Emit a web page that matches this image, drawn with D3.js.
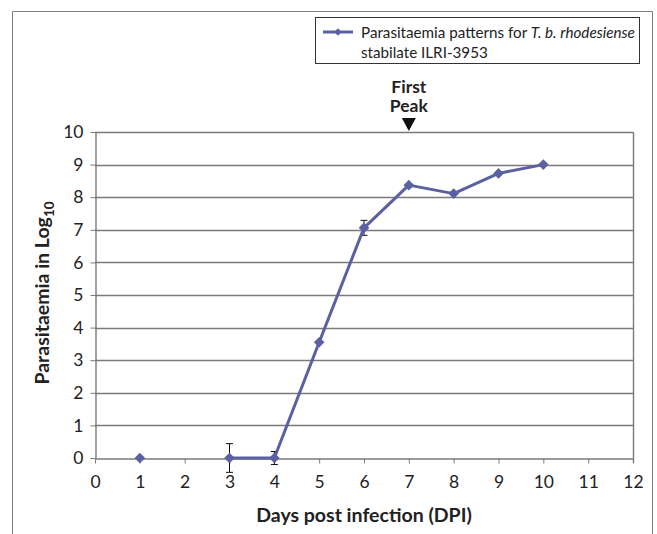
<!DOCTYPE html>
<html>
<head>
<meta charset="utf-8">
<script src="https://cdn.jsdelivr.net/npm/d3@7"></script>
<style>
  body { margin: 0; background: #fff; }
  svg text { font-family: Lato, "Open Sans", sans-serif; fill: #222; }
</style>
</head>
<body>
<svg width="657" height="534"></svg>
<script>
// data
const days = [1, 3, 4, 5, 6, 7, 8, 9, 10];
const logParasites = [0, 0, 0, 3.55, 7.06, 8.37, 8.11, 8.73, 9.0];
const errors = [0, 0.44, 0.2, 0, 0.23, 0, 0, 0, 0];
const xTicks = d3.range(0, 13);
const yTicks = d3.range(0, 11);

const svg = d3.select("svg");
const color = "#5a60a2";

const margin = { left: 95, top: 132, right: 633, bottom: 458 };

const x = d3.scaleLinear().domain([0, 12]).range([margin.left, margin.right]);
const y = d3.scaleLinear().domain([0, 10]).range([margin.bottom, margin.top]);

// outer frame (open at bottom)
svg.append("path")
  .attr("d", "M12.5,534 V11.5 H652.5 V534")
  .attr("fill", "none")
  .attr("stroke", "#7f7f7f")
  .attr("stroke-width", 1);

// gridlines
svg.append("g")
  .selectAll("line")
  .data(yTicks.filter(d => d > 0))
  .enter()
  .append("line")
  .attr("x1", x(0))
  .attr("x2", x(12))
  .attr("y1", d => Math.round(y(d)) + 0.5)
  .attr("y2", d => Math.round(y(d)) + 0.5)
  .attr("stroke", "#7a7a7a")
  .attr("stroke-width", 1.4);

// right edge of plot
svg.append("line")
  .attr("x1", Math.round(x(12)) + 0.5).attr("x2", Math.round(x(12)) + 0.5)
  .attr("y1", y(10)).attr("y2", y(0) + 5)
  .attr("stroke", "#7a7a7a").attr("stroke-width", 1.4);

// axes
const xAxis = svg.append("g")
  .attr("transform", `translate(0, ${Math.round(y(0)) + 0.5})`)
  .call(d3.axisBottom(x).tickValues(xTicks).tickSize(5).tickPadding(12).tickSizeOuter(0));

const yAxis = svg.append("g")
  .attr("transform", `translate(${Math.round(x(0)) + 0.5}, 0)`)
  .call(d3.axisLeft(y).tickValues(yTicks).tickSize(5).tickPadding(7).tickSizeOuter(0));

[xAxis, yAxis].forEach(a => {
  a.select(".domain").attr("stroke", "#7a7a7a").attr("stroke-width", 1.4);
  a.selectAll(".tick line").attr("stroke", "#7a7a7a");
  a.selectAll(".tick text")
    .style("font-family", "Lato, sans-serif")
    .attr("font-size", 17.5)
    .attr("fill", "#222");
});

// error bars
const eb = svg.append("g")
  .selectAll("g")
  .data(days.map((d, i) => ({ d, v: logParasites[i], e: errors[i] })).filter(p => p.e > 0))
  .enter()
  .append("g")
  .attr("stroke", "#111")
  .attr("stroke-width", 1);

eb.append("line")
  .attr("x1", p => x(p.d)).attr("x2", p => x(p.d))
  .attr("y1", p => y(p.v + p.e)).attr("y2", p => y(p.v - p.e));
eb.append("line")
  .attr("x1", p => x(p.d) - 3.5).attr("x2", p => x(p.d) + 3.5)
  .attr("y1", p => y(p.v + p.e)).attr("y2", p => y(p.v + p.e));
eb.append("line")
  .attr("x1", p => x(p.d) - 3.5).attr("x2", p => x(p.d) + 3.5)
  .attr("y1", p => y(p.v - p.e)).attr("y2", p => y(p.v - p.e));

// line (day 2 missing, so day 1 stands alone)
const pts = days.map((d, i) => [d, logParasites[i]]);
const line = d3.line().x(d => x(d[0])).y(d => y(d[1]));
svg.append("path")
  .datum(pts.filter(p => p[0] >= 3))
  .attr("d", line)
  .attr("fill", "none")
  .attr("stroke", color)
  .attr("stroke-width", 3)
  .attr("stroke-linejoin", "round");

const diamond = d3.symbol().type(d3.symbolDiamond2).size(72);
svg.append("g")
  .selectAll("path")
  .data(pts)
  .enter()
  .append("path")
  .attr("d", diamond)
  .attr("transform", d => `translate(${x(d[0])}, ${y(d[1])})`)
  .attr("fill", color);

// axis titles
svg.append("text")
  .attr("x", x(6))
  .attr("y", 522)
  .attr("text-anchor", "middle")
  .attr("font-size", 19.5)
  .attr("font-weight", "bold")
  .text("Days post infection (DPI)");

const yTitle = svg.append("text")
  .attr("transform", `translate(49, ${y(5) - 2}) rotate(-90)`)
  .attr("text-anchor", "middle")
  .attr("font-size", 19.5)
  .attr("font-weight", "bold");
yTitle.append("tspan").text("Parasitaemia in Log");
yTitle.append("tspan").attr("dy", 5).attr("font-size", 13.5).text("10");

// peak annotation
const peakX = x(7);
svg.append("text")
  .attr("x", peakX).attr("y", 93)
  .attr("text-anchor", "middle")
  .attr("font-size", 17.5).attr("font-weight", "bold")
  .text("First");
svg.append("text")
  .attr("x", peakX).attr("y", 112)
  .attr("text-anchor", "middle")
  .attr("font-size", 17.5).attr("font-weight", "bold")
  .text("Peak");
svg.append("path")
  .attr("d", `M${peakX - 7},118 L${peakX + 7},118 L${peakX},131 Z`)
  .attr("fill", "#111");

// legend
const legend = svg.append("g");
legend.append("rect")
  .attr("x", 315.5).attr("y", 17.5)
  .attr("width", 324).attr("height", 46)
  .attr("fill", "#fff")
  .attr("stroke", "#333");
legend.append("line")
  .attr("x1", 323).attr("x2", 353)
  .attr("y1", 32).attr("y2", 32)
  .attr("stroke", color).attr("stroke-width", 3);
legend.append("path")
  .attr("d", d3.symbol().type(d3.symbolDiamond2).size(36))
  .attr("transform", "translate(338, 32)")
  .attr("fill", color);
const lt = legend.append("text")
  .attr("x", 361).attr("y", 37.5)
  .attr("font-size", 15.2)
  .attr("fill", "#333");
lt.append("tspan").text("Parasitaemia patterns for ");
lt.append("tspan").attr("font-style", "italic").text("T. b. rhodesiense");
legend.append("text")
  .attr("x", 361).attr("y", 57.5)
  .attr("font-size", 15.2)
  .attr("fill", "#333")
  .text("stabilate ILRI-3953");
</script>
</body>
</html>
